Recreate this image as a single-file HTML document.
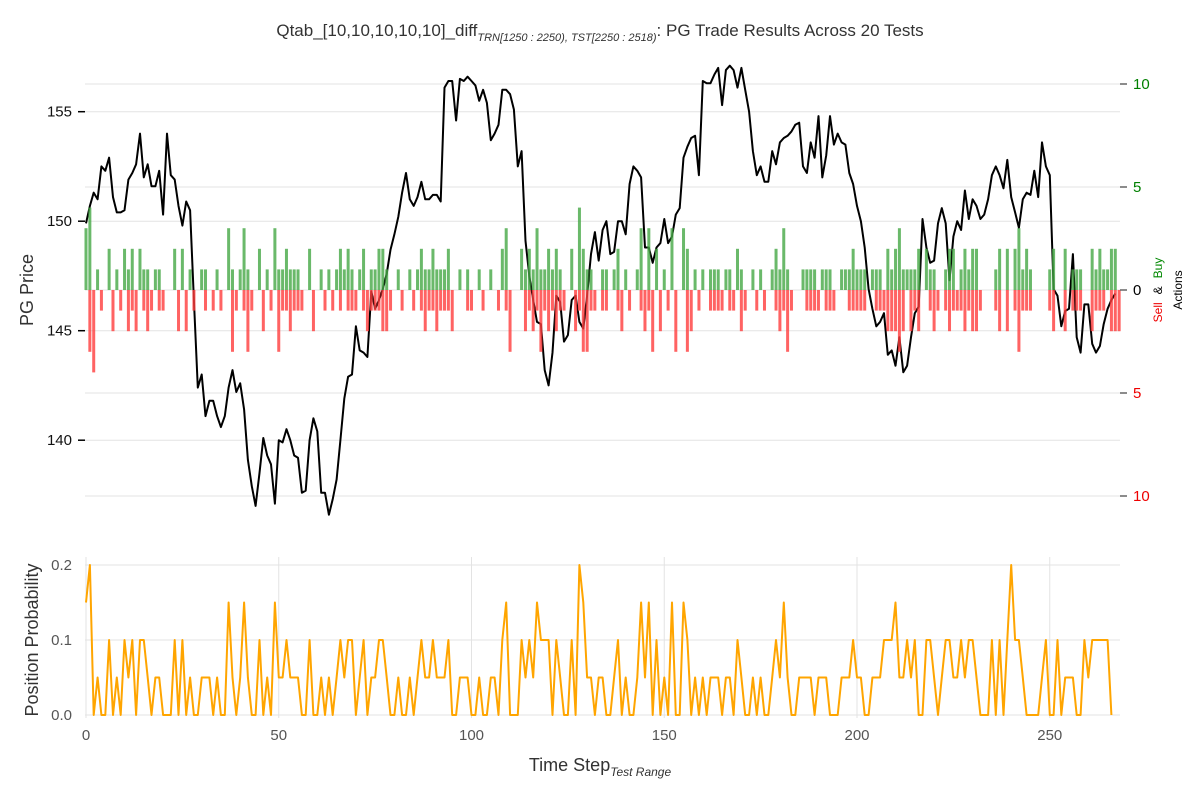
<!DOCTYPE html>
<html><head><meta charset="utf-8"><style>
html,body{margin:0;padding:0;background:#fff;}
svg{display:block;font-family:"Liberation Sans",Arial,sans-serif;}
</style></head><body>
<svg id="chart" width="1200" height="800" viewBox="0 0 1200 800">
<text x="600" y="36" text-anchor="middle" font-size="17" fill="#333">Qtab_[10,10,10,10,10]_diff<tspan font-size="11" font-style="italic" dy="5">TRN[1250 : 2250), TST[2250 : 2518)</tspan><tspan dy="-5">: PG Trade Results Across 20 Tests</tspan></text>
<g id="grid-top"></g>
<g id="grid-bot"></g>
<g id="price-g"></g>
<g id="bars-g"></g>
<g id="prob-g"></g>
<g id="axes-g"></g>
<text transform="translate(33,290) rotate(-90)" text-anchor="middle" font-size="18" fill="#333">PG Price</text>
<text transform="translate(38,640) rotate(-90)" text-anchor="middle" font-size="18" fill="#333">Position Probability</text>
<text transform="translate(1162,290) rotate(-90)" text-anchor="middle" font-size="12"><tspan fill="#e00">Sell</tspan><tspan fill="#000" dx="8">&amp;</tspan><tspan fill="#080" dx="8">Buy</tspan></text>
<text transform="translate(1182,290) rotate(-90)" text-anchor="middle" font-size="12" fill="#000">Actions</text>
<text x="600" y="771" text-anchor="middle" font-size="18" fill="#333">Time Step<tspan font-size="12" font-style="italic" dy="5">Test Range</tspan></text>
</svg>
<script>
const prices=[149.9,150.7,151.3,151.0,152.5,152.3,152.9,151.1,150.4,150.4,
150.5,151.9,152.2,152.6,154.0,152.0,152.6,151.6,151.6,152.3,
150.3,154.0,152.1,151.9,150.7,149.8,150.9,150.5,146.4,142.4,
143.0,141.1,141.8,141.8,141.1,140.6,141.1,142.4,143.2,142.2,
142.6,141.4,139.1,137.9,137.0,138.5,140.1,139.3,138.9,137.1,
140.0,139.9,140.5,140.0,139.3,139.2,137.6,137.7,140.0,141.0,
140.4,137.6,137.6,136.6,137.3,138.2,140.0,141.9,142.9,143.0,
145.2,144.1,144.0,143.8,146.8,146.0,146.4,146.9,147.6,148.7,
149.4,150.2,151.3,152.2,151.0,150.7,151.1,151.8,151.0,151.0,
151.2,151.2,150.9,156.1,156.4,156.4,154.6,156.5,156.4,156.6,
156.4,156.2,155.5,156.0,155.4,153.7,154.0,154.4,156.0,156.0,
155.8,155.1,152.5,153.2,149.1,147.5,146.4,145.4,145.3,143.2,
142.5,144.0,146.6,146.3,144.5,144.8,146.4,146.6,145.4,145.1,
146.6,148.5,149.5,148.2,149.6,150.0,148.5,148.6,150.0,150.0,
149.4,151.7,152.5,152.3,152.0,148.8,148.8,148.1,148.8,149.0,
150.1,149.0,149.3,150.3,150.6,152.9,153.4,153.8,153.9,152.1,
156.4,156.3,156.3,156.7,157.0,155.3,156.9,157.1,156.9,156.1,
157.0,156.0,155.0,153.2,152.1,152.5,151.8,151.8,153.2,152.6,
153.6,153.8,153.9,154.1,154.4,154.5,152.5,152.2,153.6,152.9,
154.8,152.0,153.0,154.8,153.5,154.0,153.6,153.5,152.2,151.7,
150.7,150.0,148.8,146.9,146.0,145.2,145.4,145.8,143.9,144.1,
143.4,144.7,143.1,143.4,144.7,145.8,146.1,150.1,148.8,148.1,
148.2,149.9,150.6,149.9,147.3,149.3,150.0,149.6,151.4,150.1,
151.0,150.7,150.1,150.3,151.0,152.1,152.5,152.1,151.5,152.8,
151.1,150.4,149.7,151.0,151.3,151.2,152.3,151.1,153.6,152.5,
152.1,146.9,146.6,145.2,145.9,146.0,148.5,144.7,144.0,146.2,
146.2,144.4,144.0,144.3,145.3,146.0,146.4,146.7];
const buySteps=[0,1,3,6,8,10,11,12,14,15,16,18,19,23,25,27,30,31,34,37,38,40,41,42,45,47,49,50,51,52,53,54,55,58,61,63,65,66,67,68,
69,71,72,74,75,76,77,78,81,84,86,87,88,89,90,91,92,93,94,97,99,102,105,108,109,113,114,115,116,117,118,119,120,121,122,123,126,128,129,130,131,134,
135,137,138,140,143,144,146,148,150,152,155,156,158,160,162,163,164,166,167,169,170,173,175,178,179,180,181,182,186,187,188,189,191,192,193,196,197,198,199,200,
201,202,204,205,206,208,209,210,211,212,213,214,215,216,218,219,220,223,224,225,227,228,229,230,231,236,237,239,241,242,243,244,245,250,251,254,256,257,258,261,262,263,264,265,266,267];
const buyCounts=[3,4,1,2,1,2,1,2,2,1,1,1,1,2,2,1,1,1,1,3,1,1,3,1,2,1,3,1,1,2,1,1,1,2,1,1,1,2,1,2,
1,1,2,1,1,2,2,1,1,1,1,2,1,1,2,1,1,1,2,1,1,1,1,2,3,2,1,2,1,3,1,1,2,1,2,1,2,4,2,1,1,1,
1,1,2,1,1,3,3,2,1,3,3,2,1,1,1,1,1,1,1,2,1,1,1,1,2,1,3,1,1,1,1,1,1,1,1,1,1,1,2,1,
1,1,1,1,1,2,1,2,3,1,1,1,1,2,2,1,1,1,2,2,1,2,1,2,2,1,2,2,2,3,1,2,1,1,2,2,1,1,1,2,1,2,1,1,2,2];
const sellSteps=[1,2,4,7,9,11,12,13,15,16,17,19,20,24,26,28,31,33,35,38,39,41,42,43,46,48,50,51,52,53,54,55,56,59,62,64,66,68,69,
70,72,73,74,75,76,77,78,79,82,85,87,88,89,90,91,92,93,94,95,99,100,103,107,109,110,114,115,116,117,118,119,120,121,122,123,124,127,128,129,130,131,132,134,
135,138,139,141,144,145,146,147,149,151,153,156,157,159,162,163,164,165,167,168,170,171,174,176,179,180,181,182,183,187,188,189,190,192,193,194,198,199,200,
201,202,205,206,207,208,209,210,211,212,214,215,216,219,220,221,223,224,225,226,227,228,229,230,231,232,236,237,239,241,242,243,244,245,250,251,254,256,257,258,261,262,263,264,266,267,268];
const sellCounts=[3,4,1,2,1,2,1,2,1,2,1,1,1,2,2,1,1,1,1,3,1,1,3,1,2,1,3,1,1,2,1,1,1,2,1,1,1,1,1,
1,1,2,1,1,1,2,2,1,1,1,1,2,1,1,2,1,1,1,2,1,1,1,1,1,3,2,1,2,1,3,1,2,1,2,1,1,2,1,3,3,1,1,1,
1,1,2,1,1,2,1,3,2,1,3,3,2,1,1,1,1,1,1,1,2,1,1,1,1,2,1,3,1,1,1,1,1,1,1,1,1,1,1,
1,1,1,1,1,2,2,2,3,2,2,1,2,1,2,1,1,2,1,1,1,2,1,2,2,1,1,2,2,1,3,1,1,1,1,2,2,1,1,1,2,1,1,1,2,2,2];
const probs=[0.15,0.2,0,0.05,0,0,0.1,0,0.05,0,
0.1,0.05,0.1,0,0.1,0.1,0.05,0,0.05,0.05,
0,0,0,0.1,0,0.1,0,0.05,0,0,
0.05,0.05,0.05,0,0.05,0,0,0.15,0.05,0,
0.05,0.15,0.05,0,0,0.1,0,0.05,0,0.15,
0.05,0.05,0.1,0.05,0.05,0.05,0,0,0.1,0,
0,0.05,0,0.05,0,0.05,0.1,0.05,0.1,0.1,
0,0.05,0.1,0,0.05,0.05,0.1,0.1,0.05,0,
0,0.05,0,0,0.05,0,0.05,0.1,0.05,0.05,
0.1,0.05,0.05,0.05,0.1,0,0,0.05,0.05,0.05,
0,0,0.05,0,0,0.05,0.05,0,0.1,0.15,
0,0,0,0.1,0.05,0.1,0.05,0.15,0.1,0.1,
0.1,0,0.1,0.05,0,0,0.1,0,0.2,0.15,
0.05,0.05,0,0.05,
0.05,0,0,0.05,0.1,0,0.05,0,0,0.05,
0.15,0.05,0.15,0,0.1,0,0.05,0,0.15,0,
0,0.15,0.1,0,0.05,0,0.05,0,0.05,0.05,
0.05,0,0.05,0.05,0,0.1,0.05,0,0,0.05,
0,0.05,0,0,0.05,0.1,0.05,0.15,0.05,0,
0,0.05,0.05,0.05,0.05,0,0.05,0.05,0.05,0,
0,0,0.05,0.05,0.05,0.1,0.05,0.05,0,0,
0.05,0.05,0.05,0.1,0.1,0.1,0.15,0.05,0.05,0.1,
0.05,0.1,0,0,0.1,0.1,0.05,0,0.05,0.1,
0.1,0.05,0.05,0.1,0.05,0.1,0.1,0.05,0,0,
0,0.1,0,0.1,0,0.1,0.2,0.1,0.1,0.05,
0,0,0,0,0.05,0.1,0,0,0.1,0,
0.05,0.05,0.05,0,0,0.1,0.05,0.1,0.1,0.1,
0.1,0.1,0];
const xTicks=[0,50,100,150,200,250];
const priceTicks=[140,145,150,155];
const actionTicks=[10,5,0,-5,-10];
const probTicks=[0,0.1,0.2];

const NS='http://www.w3.org/2000/svg';
function mk(tag,attrs,parent){const e=document.createElementNS(NS,tag);for(const k in attrs)e.setAttribute(k,attrs[k]);parent.appendChild(e);return e;}
const xs=i=>86+3.855*i;
const yPrice=p=>111.7+(155-p)*21.9;
const yAct=a=>290-a*20.6;
const yProb=v=>715-v*750;
const L=85,R=1120;

const gt=document.getElementById('grid-top');
priceTicks.forEach(t=>{const l=mk('line',{x1:L,x2:R,y1:yPrice(t),y2:yPrice(t),stroke:'#e3e3e3','stroke-width':1},gt);

});
actionTicks.forEach(t=>{const l=mk('line',{x1:L,x2:R,y1:yAct(t),y2:yAct(t),stroke:'#e3e3e3','stroke-width':1},gt);

});
const gb=document.getElementById('grid-bot');
probTicks.forEach(t=>{const l=mk('line',{x1:L,x2:R,y1:yProb(t),y2:yProb(t),stroke:'#e3e3e3','stroke-width':1},gb);

});
xTicks.forEach(t=>{const l=mk('line',{x1:xs(t),x2:xs(t),y1:557,y2:718,stroke:'#e3e3e3','stroke-width':1},gb);

});

const pg=document.getElementById('price-g');
const pl=mk('polyline',{points:prices.map((p,i)=>xs(i).toFixed(1)+','+yPrice(p).toFixed(1)).join(' '),fill:'none',stroke:'#000','stroke-width':2,'stroke-linejoin':'round'},pg);



const bg=document.getElementById('bars-g');
buySteps.forEach((s,k)=>{const h=buyCounts[k]*20.6;const r=mk('rect',{x:xs(s)-1.5,y:yAct(0)-h,width:3,height:h,fill:'#45a845','fill-opacity':0.8},bg);

});
sellSteps.forEach((s,k)=>{const h=sellCounts[k]*20.6;const r=mk('rect',{x:xs(s)-1.5,y:yAct(0),width:3,height:h,fill:'#ff3c3c','fill-opacity':0.8},bg);

});

const prg=document.getElementById('prob-g');
const ql=mk('polyline',{points:probs.map((v,i)=>xs(i).toFixed(1)+','+yProb(v).toFixed(1)).join(' '),fill:'none',stroke:'#ffa500','stroke-width':2,'stroke-linejoin':'round'},prg);



const ag=document.getElementById('axes-g');
priceTicks.forEach(t=>{const y=yPrice(t);
const tk=mk('line',{x1:78,x2:85,y1:y,y2:y,stroke:'#000','stroke-width':1.5},ag);


const tx=mk('text',{x:72,y:y+5,'text-anchor':'end','font-size':15,fill:'#111'},ag);tx.textContent=t;

});
actionTicks.forEach(t=>{const y=yAct(t);
const tk=mk('line',{x1:1120,x2:1127,y1:y,y2:y,stroke:'#666','stroke-width':1.5},ag);


const tx=mk('text',{x:1133,y:y+5,'font-size':15,fill:t>0?'#008000':(t<0?'#e00':'#000')},ag);tx.textContent=Math.abs(t);

});
probTicks.forEach(t=>{const y=yProb(t);
const tx=mk('text',{x:72,y:y+5,'text-anchor':'end','font-size':15,fill:'#555'},ag);tx.textContent=t.toFixed(1);

});
xTicks.forEach(t=>{const tx=mk('text',{x:xs(t),y:740,'text-anchor':'middle','font-size':15,fill:'#555'},ag);tx.textContent=t;

});
</script>
</body></html>
